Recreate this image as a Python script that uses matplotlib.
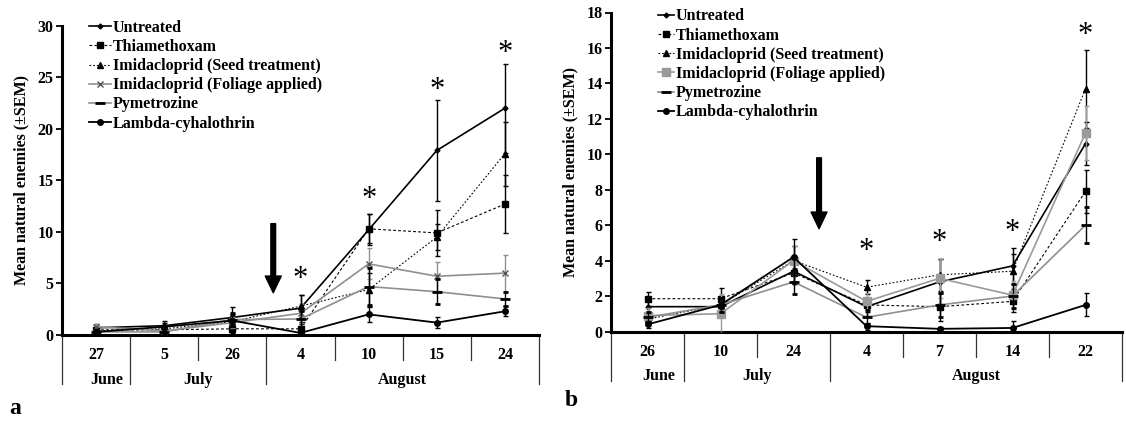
import numpy as np
import matplotlib
matplotlib.use('Agg')
import matplotlib.pyplot as plt

plt.rcParams['font.family'] = ['Liberation Serif', 'DejaVu Serif']
plt.rcParams['font.weight'] = 'bold'

series_names = ['Untreated', 'Thiamethoxam', 'Imidacloprid (Seed treatment)',
                'Imidacloprid (Foliage applied)', 'Pymetrozine', 'Lambda-cyhalothrin']
month_names = ['June', 'July', 'August']
month_first = [0, 1, 3]
month_last = [0, 2, 6]

# panel a
days_a = ['27', '5', '26', '4', '10', '15', '24']
untreated_a = [0.7, 0.9, 1.7, 2.6, 10.2, 17.9, 22.0]
untreated_a_err = [0.4, 0.5, 1.0, 1.3, 1.5, 4.9, 4.3]
thiam_a = [0.5, 0.5, 0.6, 0.6, 10.3, 9.9, 12.7]
thiam_a_err = [0.3, 0.3, 0.4, 0.5, 1.4, 2.2, 2.8]
seed_a = [0.4, 0.6, 1.3, 2.8, 4.4, 9.5, 17.6]
seed_a_err = [0.3, 0.3, 0.6, 1.1, 1.6, 1.3, 3.1]
foliage_a = [0.8, 0.4, 1.2, 2.1, 6.9, 5.7, 6.0]
foliage_a_err = [0.3, 0.3, 0.5, 0.9, 1.5, 1.4, 1.8]
pym_a = [0.3, 0.3, 1.5, 1.55, 4.7, 4.2, 3.5]
pym_a_err = [0.2, 0.2, 0.6, 0.8, 1.8, 1.2, 0.7]
lambda_a = [0.3, 0.8, 1.4, 0.2, 2.0, 1.2, 2.3]
lambda_a_err = [0.3, 0.4, 0.6, 0.2, 0.7, 0.5, 0.5]
star_a = [np.nan, np.nan, np.nan, 5.4, 13.1, 23.7, 27.3]

# panel b
days_b = ['26', '10', '24', '4', '7', '14', '22']
untreated_b = [1.4, 1.4, 3.4, 1.4, 2.8, 3.7, 10.6]
untreated_b_err = [0.4, 0.5, 0.7, 0.5, 1.3, 1.0, 1.2]
thiam_b = [1.85, 1.85, 3.3, 1.5, 1.4, 1.7, 7.9]
thiam_b_err = [0.4, 0.6, 0.6, 0.4, 0.8, 0.6, 1.2]
seed_b = [0.7, 1.5, 4.0, 2.5, 3.2, 3.4, 13.7]
seed_b_err = [0.3, 0.5, 0.8, 0.4, 0.9, 1.0, 2.2]
foliage_b = [0.9, 1.0, 4.0, 1.7, 3.0, 2.05, 11.2]
foliage_b_err = [0.4, 1.1, 0.8, 0.5, 1.1, 0.8, 1.5]
pym_b = [0.8, 1.5, 2.8, 0.8, 1.5, 2.0, 6.0]
pym_b_err = [0.3, 0.4, 0.7, 0.4, 0.7, 0.7, 1.0]
lambda_b = [0.4, 1.5, 4.2, 0.3, 0.15, 0.2, 1.5]
lambda_b_err = [0.2, 0.4, 1.0, 0.2, 0.1, 0.4, 0.65]
star_b = [np.nan, np.nan, np.nan, 4.5, 5.0, 5.6, 16.7]

GRAY = '#8f8f8f'
styles = [
    dict(color='black', ls='-', lw=1.2, marker='D', ms=2.5, mfc='black', mec='black'),
    dict(color='black', ls=(0, (2.5, 2)), lw=0.8, marker='s', ms=5, mfc='black', mec='black'),
    dict(color='black', ls=(0, (1.5, 1.8)), lw=0.8, marker='^', ms=4.5, mfc='black', mec='black'),
    dict(color=GRAY, ls='-', lw=1.2, marker='x', ms=5, mfc=GRAY, mec='#555555'),
    dict(color=GRAY, ls='-', lw=1.2, marker='_', ms=7, mew=2, mfc='black', mec='black'),
    dict(color='black', ls='-', lw=1.3, marker='o', ms=4, mfc='black', mec='black'),
]

W, H = 1126, 421
fig = plt.figure(figsize=(W / 100, H / 100), dpi=100)


def px_to_ax(ax, px):
    return px / (ax.get_position().height * H)


def panel(ax, days, values, errs, stars, ymax, ystep, arrow_x, arrow_top, arrow_tip,
          legend_anchor, handle_len, foliage_square=False):
    x = np.arange(len(days))
    handles = []
    for i, (v, e) in enumerate(zip(values, errs)):
        st = dict(styles[i])
        if foliage_square and i == 3:
            st.update(marker='s', ms=6, mfc='#9a9a9a', mec='#9a9a9a', color='#9a9a9a')
        ecol = st['mec'] if i == 4 else st['color']
        c = ax.errorbar(x, v, yerr=e, capsize=1.8, elinewidth=1.0, capthick=1.0,
                        ecolor=ecol, zorder=3 + i * 0.1, **st)
        handles.append(c[0])
    for xi, s in zip(x, stars):
        if not np.isnan(s):
            ax.text(xi, s, '*', ha='center', va='center', fontsize=22,
                    fontweight='normal')
    ax.annotate('', xy=(arrow_x, arrow_tip), xytext=(arrow_x, arrow_top),
                arrowprops=dict(width=3.4, headwidth=11.5, headlength=12,
                                facecolor='black', edgecolor='black', shrink=0))
    ax.set_xlim(-0.5, len(days) - 0.5)
    ax.set_ylim(0, ymax)
    ax.set_yticks(np.arange(0, ymax + 0.1, ystep))
    ax.set_xticks([])
    ax.spines['top'].set_visible(False)
    ax.spines['right'].set_visible(False)
    ax.spines['left'].set_linewidth(2.2)
    ax.spines['bottom'].set_linewidth(2.2)
    ax.tick_params(axis='y', direction='out', length=4, width=1.3, labelsize=11.5, pad=2)
    for t in ax.get_yticklabels():
        t.set_fontweight('bold')
    ax.set_ylabel('Mean natural enemies (\u00b1SEM)', fontsize=11.5, fontweight='bold',
                  labelpad=6)

    tr = ax.get_xaxis_transform()
    day_y = -px_to_ax(ax, 20)
    mon_y = -px_to_ax(ax, 45)
    inner = -px_to_ax(ax, 25)
    outer = -px_to_ax(ax, 49)
    group_edges = [month_first[0] - 0.5] + [l + 0.5 for l in month_last]
    for b in np.arange(len(days) + 1) - 0.5:
        low = outer if b in group_edges else inner
        ax.plot([b, b], [0, low], transform=tr, color='#333333', lw=0.9, clip_on=False)
    for xi, d in zip(x, days):
        ax.text(xi, day_y, d, transform=tr, ha='center', va='center', fontsize=11.5,
                fontweight='bold')
    for name, a, b in zip(month_names, month_first, month_last):
        ax.text((a + b) / 2 + (0.15 if a == b else 0), mon_y, name, transform=tr,
                ha='center', va='center', fontsize=11.5, fontweight='bold')

    leg = ax.legend(handles, series_names, loc='upper left', bbox_to_anchor=legend_anchor,
                    frameon=False, fontsize=11.5, handlelength=handle_len,
                    handletextpad=0.1, labelspacing=0.2, borderaxespad=0)
    for t in leg.get_texts():
        t.set_fontweight('bold')


ax1 = fig.add_axes([62 / W, 1 - 335 / H, 477 / W, 309.3 / H])
panel(ax1, days_a,
      [untreated_a, thiam_a, seed_a, foliage_a, pym_a, lambda_a],
      [untreated_a_err, thiam_a_err, seed_a_err, foliage_a_err, pym_a_err, lambda_a_err],
      star_a, 30, 5, 2.6, 10.8, 4.1, (0.043, 1.04), 1.4)

ax2 = fig.add_axes([611 / W, 1 - 331.5 / H, 511 / W, 319 / H])
panel(ax2, days_b,
      [untreated_b, thiam_b, seed_b, foliage_b, pym_b, lambda_b],
      [untreated_b_err, thiam_b_err, seed_b_err, foliage_b_err, pym_b_err, lambda_b_err],
      star_b, 18, 2, 2.35, 9.8, 5.8, (0.08, 1.033), 1.0, foliage_square=True)

fig.text(15 / W, 1 - 408 / H, 'a', fontsize=17, fontweight='bold', ha='center', va='center')
fig.text(571 / W, 1 - 400 / H, 'b', fontsize=17, fontweight='bold', ha='center', va='center')

fig.savefig('out.png', dpi=100)
